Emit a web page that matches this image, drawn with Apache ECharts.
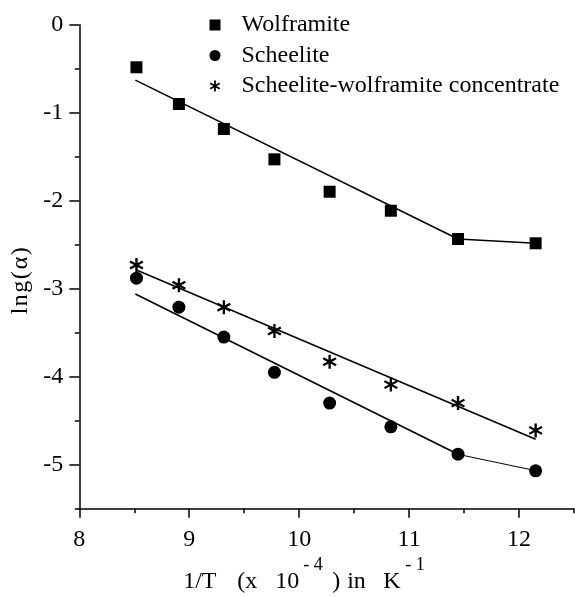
<!DOCTYPE html>
<html><head><meta charset="utf-8">
<script src="https://cdn.jsdelivr.net/npm/echarts@6/dist/echarts.min.js"></script>
<style>html,body{margin:0;padding:0;background:#fff}#c{width:575px;height:597px}</style>
</head><body><div id="c"></div>
<script>
// 1/T (x 10^-4) in K^-1
const xValues = [8.52, 8.906, 9.315, 9.775, 10.277, 10.834, 11.445, 12.151];
const wolframite = [-0.484, -0.901, -1.185, -1.530, -1.898, -2.114, -2.435, -2.484];
const scheelite = [-2.88, -3.21, -3.55, -3.95, -4.30, -4.57, -4.88, -5.07];
const concentrate = [-2.73, -2.96, -3.21, -3.48, -3.83, -4.09, -4.30, -4.61];

// fitted lines
const wolfFitX = [8.51, 11.445, 12.151];
const wolfFitY = [-0.63, -2.435, -2.484];
const scheFitX = [8.51, 11.445];
const scheFitY = [-3.06, -4.882];
const scheTailX = [11.445, 12.151];
const scheTailY = [-4.882, -5.068];
const concFitX = [8.52, 12.151];
const concFitY = [-2.787, -4.711];

const xMajorTicks = [8, 9, 10, 11, 12];
const xMinorTicks = [8.5, 9.5, 10.5, 11.5, 12.5];
const yMajorTicks = [0, -1, -2, -3, -4, -5];
const yMinorTicks = [-0.5, -1.5, -2.5, -3.5, -4.5, -5.5];

const names = ['Wolframite', 'Scheelite', 'Scheelite-wolframite concentrate'];

const pairs = (xs, ys) => xs.map((x, i) => [x, ys[i]]);
const FONT = 'Liberation Serif';
const asterisk = 'path://M42 0L58 0L58 100L42 100Z' +
  'M10.7 18.1L97.3 68.1L89.3 81.9L2.7 31.9Z' +
  'M2.7 68.1L89.3 18.1L97.3 31.9L10.7 81.9Z';

const chart = echarts.init(document.getElementById('c'), null, {renderer: 'canvas'});
const axisCommon = {
  axisLine: {onZero: false, lineStyle: {color: '#000', width: 1.5}},
  splitLine: {show: false}
};
const fitLine = (xs, ys, w) => ({
  type: 'line', data: pairs(xs, ys), symbol: 'none', silent: true,
  lineStyle: {color: '#000', width: w}, z: 1, animation: false
});
const tok = (w, fs, extra) => Object.assign({fontFamily: FONT, fontSize: fs, color: '#000', width: w, align: 'left'}, extra || {});
const mainTok = w => tok(w, 24, {lineHeight: 24, verticalAlign: 'bottom'});
const supTok = w => tok(w, 18, {lineHeight: 15, verticalAlign: 'bottom', padding: [0, 0, 19, 0]});
const yTok = w => tok(w, 24, {lineHeight: 24});

chart.setOption({
  animation: false,
  backgroundColor: '#fff',
  grid: {left: 79.3, right: 1, top: 24.7, bottom: 88.3, outerBoundsMode: 'none'},
  legend: {
    data: names, orient: 'vertical', left: 209.5, top: 13, padding: 0,
    itemWidth: 11, itemHeight: 11, itemGap: 6.5,
    textStyle: {fontFamily: FONT, fontSize: 24, color: '#000', lineHeight: 24, padding: [0, 0, 0, 16]}
  },
  xAxis: [
    Object.assign({}, axisCommon, {
      type: 'value', min: 8, max: 12.5, position: 'bottom',
      axisTick: {show: true, length: 9, lineStyle: {color: '#000', width: 1.5}, customValues: xMajorTicks},
      axisLabel: {customValues: xMajorTicks, fontFamily: FONT, fontSize: 24, color: '#000', margin: 19},
      name: '{t1|1/T}{t2|(x}{t3|10}{s1|- 4}{t4|)}{t5|in}{t6|K}{s2|- 1}',
      nameLocation: 'middle', nameGap: 61,
      nameTextStyle: {
        padding: [0, 37, 0, 0],
        rich: {
          t1: mainTok(54), t2: mainTok(38), t3: mainTok(28), s1: supTok(29),
          t4: mainTok(15), t5: mainTok(36), t6: mainTok(22), s2: supTok(28)
        }
      }
    }),
    {
      type: 'value', min: 8, max: 12.5, position: 'bottom', gridIndex: 0,
      axisLine: {show: false, onZero: false}, splitLine: {show: false}, axisLabel: {show: false},
      axisTick: {show: true, length: 4.5, lineStyle: {color: '#000', width: 1.5}, customValues: xMinorTicks}
    }
  ],
  yAxis: [
    Object.assign({}, axisCommon, {
      type: 'value', min: -5.5, max: 0, position: 'left',
      axisTick: {show: true, length: 10, lineStyle: {color: '#000', width: 1.5}, customValues: yMajorTicks},
      axisLabel: {customValues: yMajorTicks, fontFamily: FONT, fontSize: 24, color: '#000', margin: 16},
      name: '{c1|l}{c2|n}{c3|g}{c4|(}{c5|α}{c6|)}', nameLocation: 'middle', nameGap: 45,
      nameTextStyle: {
        padding: [0, 26, 0, 0],
        rich: {c1: yTok(8), c2: yTok(13.5), c3: yTok(13.5), c4: yTok(10), c5: yTok(14), c6: yTok(10)}
      }
    }),
    {
      type: 'value', min: -5.5, max: 0, position: 'left', gridIndex: 0,
      axisLine: {show: false, onZero: false}, splitLine: {show: false}, axisLabel: {show: false},
      axisTick: {show: true, length: 4.5, lineStyle: {color: '#000', width: 1.5}, customValues: yMinorTicks}
    }
  ],
  series: [
    {name: names[0], type: 'scatter', data: pairs(xValues, wolframite), symbol: 'rect', symbolSize: 12,
      itemStyle: {color: '#000', opacity: 1}, z: 3},
    {name: names[1], type: 'scatter', data: pairs(xValues, scheelite), symbol: 'circle', symbolSize: 13,
      itemStyle: {color: '#000', opacity: 1}, z: 3},
    {name: names[2], type: 'scatter', data: pairs(xValues, concentrate), symbol: asterisk, symbolSize: 14,
      itemStyle: {color: '#000', opacity: 1}, z: 3},
    fitLine(wolfFitX, wolfFitY, 1.6),
    fitLine(scheFitX, scheFitY, 1.6),
    fitLine(scheTailX, scheTailY, 1),
    fitLine(concFitX, concFitY, 1.6)
  ]
});
</script></body></html>
